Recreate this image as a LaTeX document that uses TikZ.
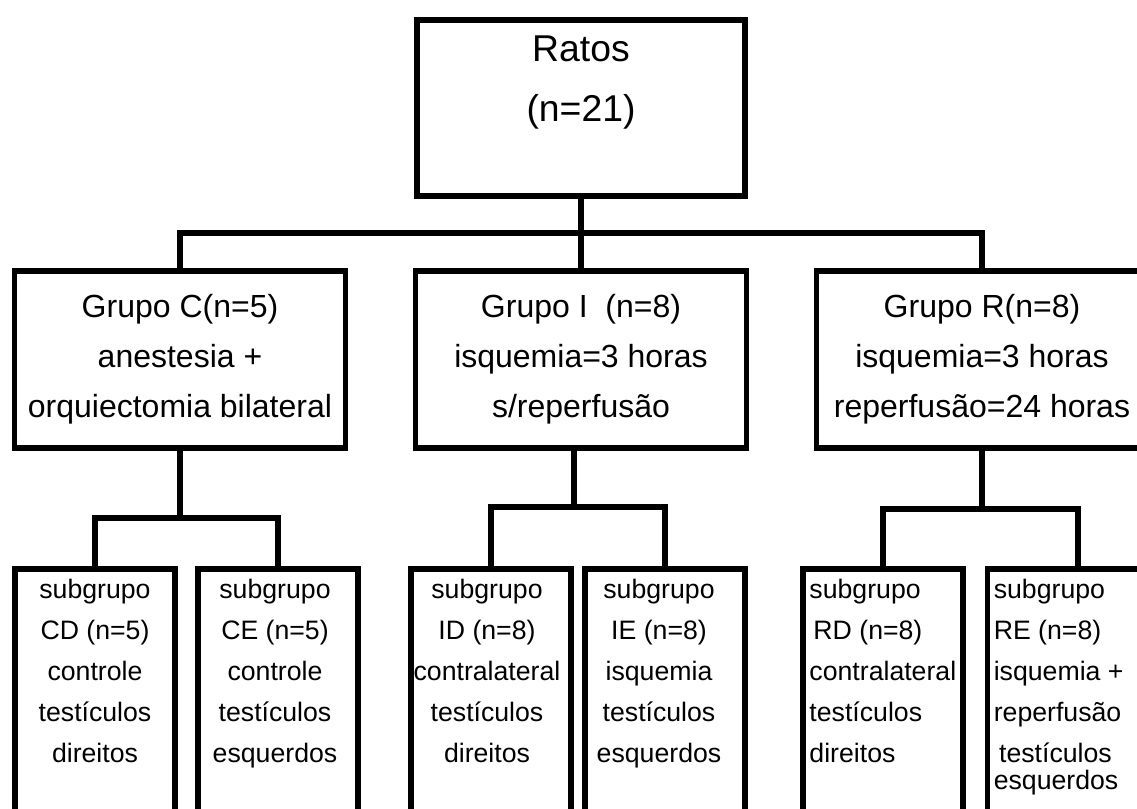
\documentclass[tikz,border=0pt]{standalone}
\usepackage{fontspec}
\setmainfont{Liberation Sans}
\usetikzlibrary{calc}

\begin{document}
\begin{tikzpicture}[x=0.75pt, y=-0.75pt,
    caixa/.style={draw, line width=4.2pt, minimum width=248pt, minimum height=132.75pt,
      align=center, inner sep=0pt, font=\fontsize{24}{37.5}\selectfont},
    sub/.style={draw, line width=4.2pt, anchor=north, minimum width=120pt, minimum height=255pt},
    texto/.style={anchor=north, inner sep=0pt, font=\fontsize{20}{30.75}\selectfont},
    liga/.style={line width=4.2pt}]

  \useasboundingbox (0,0) rectangle (1137,809);
  \clip (0,0) rectangle (1137,809);

  \node[caixa, minimum width=246pt, minimum height=132pt, font=\fontsize{28}{45}\selectfont]
    (ratos) at (581,108) {Ratos\\(n=21)\\[-7.5pt]\phantom{(n=21)}};

  \node[caixa] (gc) at (180,359.5) {Grupo C(n=5)\\anestesia +\\orquiectomia bilateral};
  \node[caixa] (gi) at (581,359.5) {Grupo I \ (n=8)\\isquemia=3 horas\\s/reperfusão};
  \node[caixa] (gr) at (982,359.5) {Grupo R(n=8)\\isquemia=3 horas\\reperfusão=24 horas};

  \coordinate (barra) at (0,233);
  \draw[liga] (ratos.south) -- (gi.north);
  \draw[liga] (gc.north) |- (barra -| ratos.south) -| (gr.north);

  \node[sub] (cd) at (95,566) {};
  \node[sub] (ce) at (278,566) {};
  \node[sub] (id) at (491,566) {};
  \node[sub] (ie) at (665,566) {};
  \node[sub] (rd) at (883,566) {};
  \node[sub, minimum width=136pt] (re) at (1078,566) {};

  \draw[liga] (gc.south) -- ++(0,67) coordinate (bc);
  \draw[liga] (cd.north) |- (bc) -| (ce.north);
  \draw[liga] ([xshift=-5.25pt]gi.south) -- ++(0,56) coordinate (bi);
  \draw[liga] (id.north) |- (bi) -| (ie.north);
  \draw[liga] (gr.south) -- ++(0,58) coordinate (br);
  \draw[liga] (rd.north) |- (br) -| (re.north);

  \node[texto, align=center] (cdtx) at ($(cd.north)+(0,13)$)
    {subgrupo\\CD (n=5)\\controle\\testículos\\direitos};
  \node[texto, align=center] (cetx) at ($(ce.north)+(-3,13)$)
    {subgrupo\\CE (n=5)\\controle\\testículos\\esquerdos};
  \node[texto, align=center] (idtx) at ($(id.north)+(-4,13)$)
    {subgrupo\\ID (n=8)\\contralateral\\testículos\\direitos};
  \node[texto, align=center] (ietx) at ($(ie.north)+(-6,13)$)
    {subgrupo\\IE (n=8)\\isquemia\\testículos\\esquerdos};
  \node[texto, align=left, anchor=north west] (rdtx) at ($(rd.north west)+(9,13)$)
    {subgrupo\\\hspace*{3pt}RD (n=8)\\contralateral\\testículos\\direitos};
  \node[texto, align=left, anchor=north west] (retx) at ($(re.north west)+(9,13)$)
    {subgrupo\\RE (n=8)\\isquemia +\\reperfusão\\\hspace*{4pt}testículos\\[-10.5pt]esquerdos};
\end{tikzpicture}
\end{document}
